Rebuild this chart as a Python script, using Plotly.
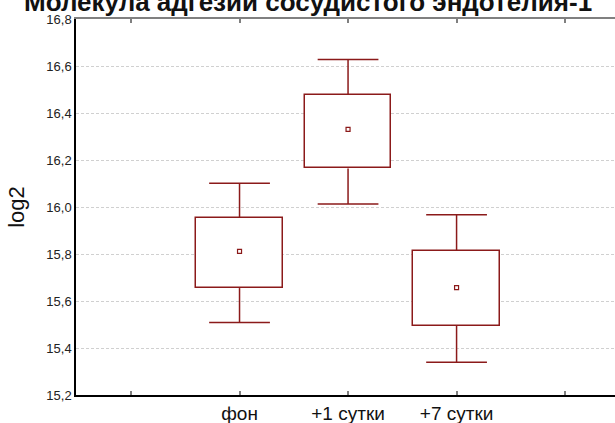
import plotly.graph_objects as go

categories = ["фон", "+1 сутки", "+7 сутки"]
means = [15.811, 16.330, 15.657]
box_low = [15.655, 16.164, 15.494]
box_high = [15.954, 16.478, 15.813]
whisker_low = [15.508, 16.013, 15.339]
whisker_high = [16.101, 16.628, 15.967]
y_ticks = [15.2, 15.4, 15.6, 15.8, 16.0, 16.2, 16.4, 16.6, 16.8]
title_text = "Молекула адгезии сосудистого эндотелия-1"
y_title = "log2"

RED = "#8b1a1a"
BOX_W = 0.80
CAP_HALF = 0.28

xpos = list(range(1, len(categories) + 1))

fig = go.Figure()

# boxes
fig.add_trace(go.Bar(
    x=xpos, y=[h - l for h, l in zip(box_high, box_low)], base=box_low,
    width=BOX_W, marker=dict(color="white", line=dict(color=RED, width=1.5)),
    showlegend=False, hoverinfo="skip"))

# whiskers
wx, wy = [], []
for x, bl, bh, wl, wh in zip(xpos, box_low, box_high, whisker_low, whisker_high):
    wx += [x, x, None, x - CAP_HALF, x + CAP_HALF, None,
           x, x, None, x - CAP_HALF, x + CAP_HALF, None]
    wy += [bh, wh, None, wh, wh, None, bl, wl, None, wl, wl, None]
fig.add_trace(go.Scatter(x=wx, y=wy, mode="lines", line=dict(color=RED, width=1.5),
                         showlegend=False, hoverinfo="skip"))

# means
fig.add_trace(go.Scatter(x=xpos, y=means, mode="markers",
                         marker=dict(symbol="square-open", size=4, color=RED, line=dict(width=1.2)),
                         showlegend=False))

# dummy for top axis
fig.add_trace(go.Scatter(x=[0], y=[16.0], xaxis="x2", mode="markers",
                         marker=dict(opacity=0), showlegend=False, hoverinfo="skip"))

xr = [-0.507, 4.46]
tickvals_x = [0, 1, 2, 3, 4]
ticktext_x = [""] + categories + [""]

fig.update_layout(
    width=615, height=423,
    margin=dict(l=76, r=0, t=19, b=28),
    paper_bgcolor="white", plot_bgcolor="white",
    separators=", ",
    font=dict(family="Liberation Sans, Arial, sans-serif", color="#222"),
    xaxis=dict(range=xr, tickvals=tickvals_x, ticktext=ticktext_x,
               showgrid=False, zeroline=False, showline=True, linecolor="black", linewidth=2,
               ticks="inside", ticklen=4, tickcolor="#808080", tickwidth=2,
               tickfont=dict(size=19, color="#111")),
    xaxis2=dict(range=xr, overlaying="x", side="top", tickvals=tickvals_x,
                showticklabels=False, showgrid=False, zeroline=False,
                showline=True, linecolor="#808080", linewidth=2,
                ticks="inside", ticklen=4, tickcolor="#808080", tickwidth=2),
    yaxis=dict(range=[15.2, 16.8], tickvals=y_ticks, tickformat=".1f",
               showgrid=True, gridcolor="#d0d0d0", griddash="3px,2px", gridwidth=1,
               zeroline=False, showline=True, linecolor="black", linewidth=1.5,
               ticks="", tickfont=dict(size=13, color="#222"),
               title=dict(text=y_title, font=dict(size=22, color="#111"), standoff=16)),
    bargap=0,
    annotations=[dict(text="<b>" + title_text + "</b>", xref="paper", yref="paper",
                      x=(308 - 76) / 539, y=1.0, xanchor="center", yanchor="bottom",
                      yshift=0, showarrow=False,
                      font=dict(size=26, color="#111"))],
)

fig.write_html("out.html")
